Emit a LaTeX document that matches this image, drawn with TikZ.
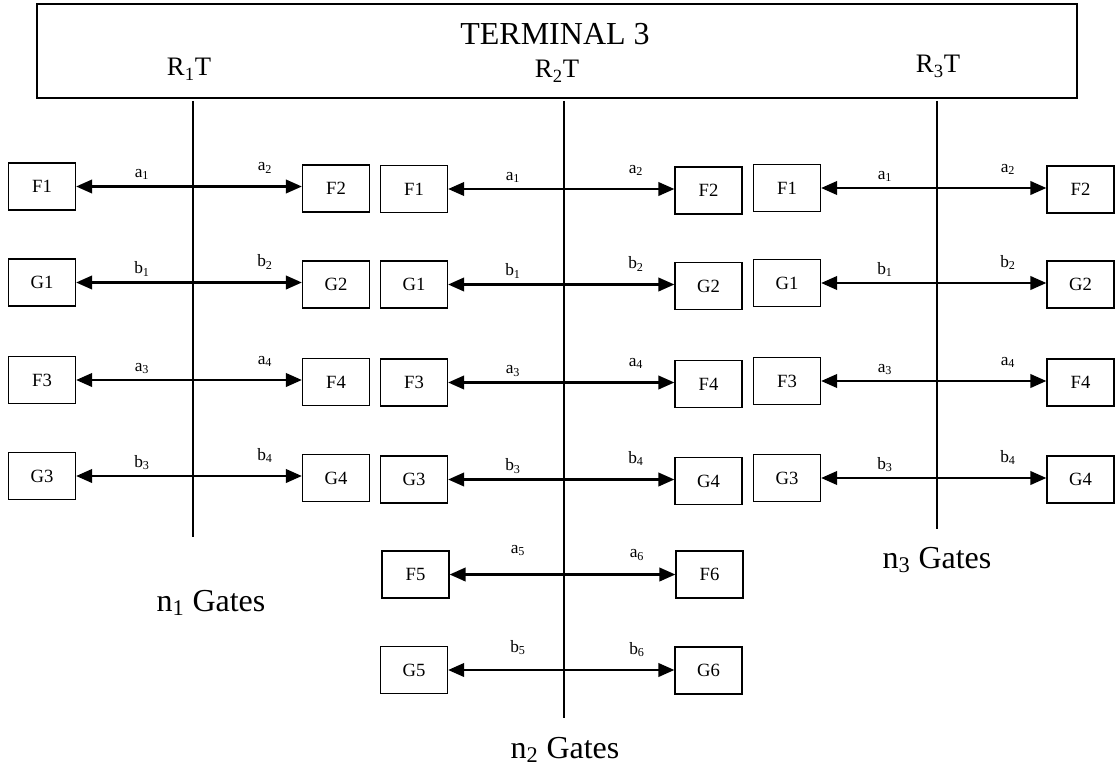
\documentclass[tikz,border=0pt]{standalone}
\usepackage{fontspec}
\setmainfont{Liberation Serif}
\usetikzlibrary{arrows.meta}
\begin{document}
\begin{tikzpicture}[x=0.75pt,y=-0.75pt,
  gate/.style={draw, line width=1.1pt, minimum width=50pt, minimum height=35pt, inner sep=0pt, font=\fontsize{14}{16}\selectfont},
  link/.style={line width=2pt, -{Triangle[length=12pt,width=10pt]}},
  lab/.style={font=\fontsize{13}{15}\selectfont, anchor=base, inner sep=0pt},
  rail/.style={line width=1.2pt},
  rlab/.style={font=\fontsize{20}{24}\selectfont, anchor=base, inner sep=0pt},
  gates/.style={font=\fontsize{24}{28}\selectfont, anchor=base, inner sep=0pt},
  termbox/.style={draw, line width=1.2pt, inner sep=0pt, anchor=north west, minimum width=780pt, minimum height=70.5pt}]
\useasboundingbox (0,0) rectangle (1117,767);
% terminal
\node[termbox] (term) at (36,3) {};
\node[gates] (title) at (555,45) {TERMINAL 3};
\node[rlab] (r1t) at (189,76) {R\textsubscript{1}T};
\node[rlab] (r2t) at (557,78) {R\textsubscript{2}T};
\node[rlab] (r3t) at (938,73) {R\textsubscript{3}T};
% rails
\coordinate (t1) at (193,101); \coordinate (b1) at (193,537);
\coordinate (t2) at (564,101); \coordinate (b2) at (564,718);
\coordinate (t3) at (937,101); \coordinate (b3) at (937,529);
\draw[rail] (t1) -- (b1);
\draw[rail] (t2) -- (b2);
\draw[rail] (t3) -- (b3);
% gates
\foreach \c/\r/\lx/\rx/\lin/\y/\ry/\bt/\lt/\i/\j/\dl/\dr/\ox/\orx in {
  1/1/42/336/193/186.5/2/F/a/1/2/9/16/51/72,
  1/2/42/336/193/282.5/2/G/b/1/2/9/16/51/72,
  1/3/42/336/193/380/2/F/a/3/4/9/16/51/72,
  1/4/42/336/193/476/2/G/b/3/4/9/16/51/72,
  2/1/414/708.5/564/189/1.5/F/a/1/2/9/16/51/72,
  2/2/414/708.5/564/284.5/1.5/G/b/1/2/9/16/51/72,
  2/3/414/708.5/564/382.5/1.5/F/a/3/4/9/16/51/72,
  2/4/414/708.5/564/479.5/1.5/G/b/3/4/9/16/51/72,
  2/5/415.5/709.5/564/574.5/0/F/a/5/6/21/17/46/73,
  2/6/414/708.5/564/670/0.5/G/b/5/6/18/16/46/73,
  3/1/787/1080.5/937/188/1.5/F/a/1/2/9/16/52/71,
  3/2/787/1080.5/937/283/1.5/G/b/1/2/9/16/52/71,
  3/3/787/1080.5/937/381/1.5/F/a/3/4/9/16/52/71,
  3/4/787/1080.5/937/478/1.5/G/b/3/4/9/16/52/71}
{
  \node[gate] (L\c\r) at (\lx,\y) {\bt\i};
  \node[gate] (R\c\r) at (\rx,\y+\ry) {\bt\j};
  \coordinate (M\c\r) at (\lin+7,\y);
  \draw[link] (M\c\r) -- (L\c\r.east);
  \draw[link] (M\c\r) -- (M\c\r -| R\c\r.west);
  \node[lab] (la\c\r) at (\lin-\ox,\y-\dl) {\lt\textsubscript{\i}};
  \node[lab] (lb\c\r) at (\lin+\orx,\y-\dr) {\lt\textsubscript{\j}};
}
% gate counts
\node[gates] (n1) at (211,611) {n\textsubscript{1} Gates};
\node[gates] (n2) at (565,758) {n\textsubscript{2} Gates};
\node[gates] (n3) at (937,568) {n\textsubscript{3} Gates};
\end{tikzpicture}
\end{document}
